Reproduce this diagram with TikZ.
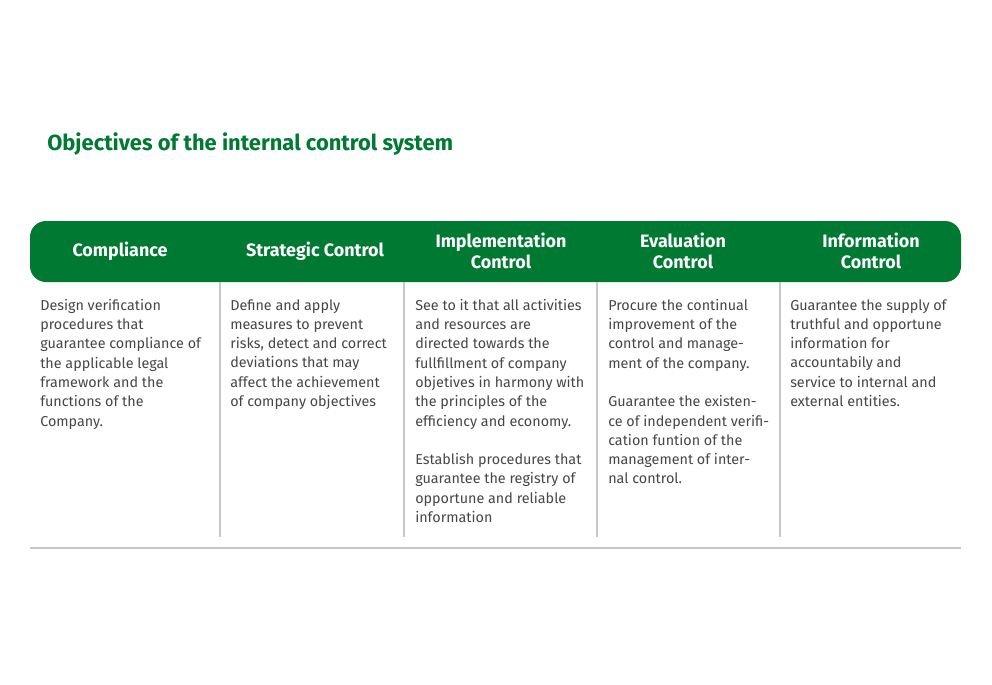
\documentclass[tikz,border=0pt]{standalone}
\usepackage{fontspec}
\setmainfont{Fira Sans}
\definecolor{icgreen}{RGB}{0,122,51}
\definecolor{ictext}{RGB}{70,70,70}
\definecolor{icrule}{RGB}{200,200,200}
\tikzset{
  headtext/.style={text=white, font=\fontsize{13.5}{15.5}\selectfont\bfseries, align=center},
  bodytext/.style={anchor=north west, text=ictext, inner sep=0pt, align=left,
    font=\fontsize{10.8}{14.5}\selectfont},
  divider/.style={icrule, line width=1.2pt}
}
\begin{document}
\begin{tikzpicture}[x=0.0264583cm, y=-0.0264583cm]
  \useasboundingbox (0,0) rectangle (992,684);

  % title
  \node[anchor=west, text=icgreen, font=\fontsize{16.5}{18}\selectfont\bfseries, inner sep=0pt]
    (title) at (47,144) {Objectives of the internal control system};

  % header bar
  \fill[icgreen, rounded corners=12] (30,221) rectangle (961,282);
  \coordinate (bl) at (30,548);
  \coordinate (br) at (961,548);
  \draw[divider] (bl) -- (br);

  % column dividers
  \foreach \x in {220, 404, 597, 780} {
      \draw[divider] (\x,282) -- (\x,537);
  }

  % headers
  \node[headtext] (h1) at (120,251) {Compliance};
  \node[headtext] (h2) at (315,251) {Strategic Control};
  \node[headtext] (h3) at (501,251) {Implementation\\Control};
  \node[headtext] (h4) at (683,251) {Evaluation\\Control};
  \node[headtext] (h5) at (871,251) {Information\\Control};

  % body texts
  \node[bodytext] (c1) at (40,299) {Design verification\\procedures that\\guarantee compliance of\\the applicable legal\\framework and the\\functions of the\\Company.};
  \node[bodytext] (c2) at (230,299) {Define and apply\\measures to prevent\\risks, detect and correct\\deviations that may\\affect the achievement\\of company objectives};
  \node[bodytext] (c3) at (415,299) {See to it that all activities\\and resources are\\directed towards the\\fullfillment of company\\objetives in harmony with\\the principles of the\\efficiency and economy.\\[14.5pt]Establish procedures that\\guarantee the registry of\\opportune and reliable\\information};
  \node[bodytext] (c4) at (608,299) {Procure the continual\\improvement of the\\control and manage-\\ment of the company.\\[14.5pt]Guarantee the existen-\\ce of independent verifi-\\cation funtion of the\\management of inter-\\nal control.};
  \node[bodytext] (c5) at (790,299) {Guarantee the supply of\\truthful and opportune\\information for\\accountabily and\\service to internal and\\external entities.};
\end{tikzpicture}
\end{document}
